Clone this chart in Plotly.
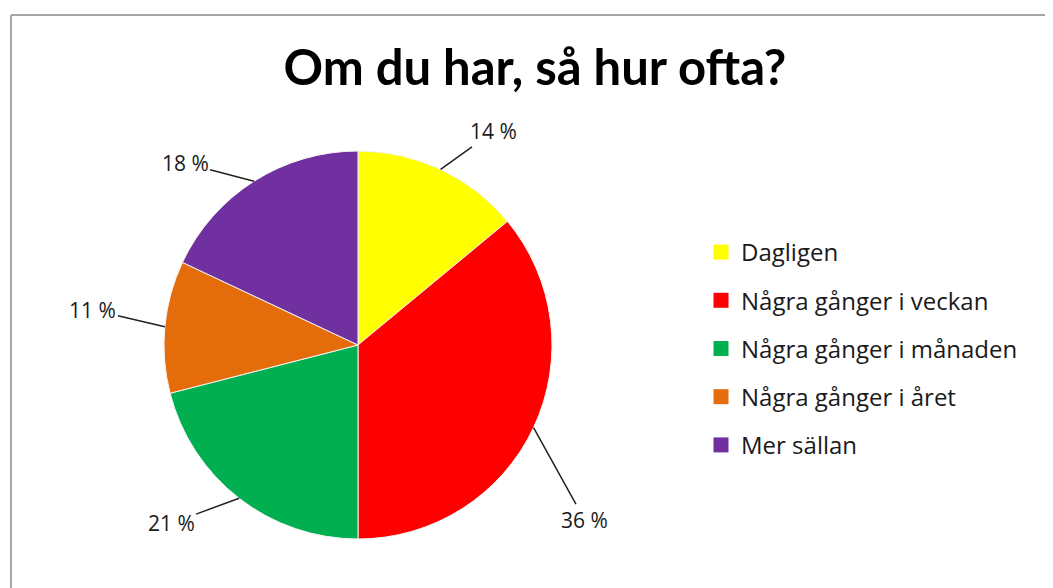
import math
import plotly.graph_objects as go

# ---- data ----
categories = ["Dagligen", "Några gånger i veckan", "Några gånger i månaden",
              "Några gånger i året", "Mer sällan"]
percent_values = [14, 36, 21, 11, 18]
title_text = "Om du har, så hur ofta?"

# ---- style ----
colors = ["#FFFF00", "#FF0000", "#00B050", "#E46C0A", "#7030A0"]
label_offsets = [(53, -38), (51, 92), (-68, 25), (-72, -17), (-69, -18)]  # pixel offsets of labels
W, H = 1053, 588
OFF = 8  # page body margin
cx_px, cy_px, r_px = 358 - OFF, 345 - OFF, 194
FONT = "Lato"
FONT2 = "Open Sans"

fig = go.Figure()

dom_x = [(cx_px - r_px) / W, (cx_px + r_px) / W]
dom_y = [(H - cy_px - r_px) / H, (H - cy_px + r_px) / H]

fig.add_trace(go.Pie(
    labels=categories, values=percent_values, sort=False, direction="clockwise",
    rotation=0, marker=dict(colors=colors, line=dict(color="#f4f4f4", width=1)),
    textinfo="none", showlegend=False, hoverinfo="label+percent",
    domain=dict(x=dom_x, y=dom_y),
))

# legend entries (one per category)
for cat, col in zip(categories, colors):
    fig.add_trace(go.Scatter(
        x=[None], y=[None], mode="markers", name=cat, legendgroup=cat,
        marker=dict(symbol="square", size=15, color=col),
    ))

# percentage labels with leader lines, anchored at each slice's mid-angle on the rim
total = sum(percent_values)
cum = 0
for v, (ax, ay) in zip(percent_values, label_offsets):
    mid = (cum + v / 2) / total * 2 * math.pi
    cum += v
    px = cx_px + r_px * math.sin(mid)
    py = cy_px - r_px * math.cos(mid)
    fig.add_annotation(
        x=px / W, y=1 - py / H, xref="paper", yref="paper",
        text=f"{v} %", showarrow=True, arrowhead=0, arrowwidth=1.5,
        arrowcolor="#222222", ax=ax, ay=ay,
        font=dict(family=FONT2, size=21, color="#1a1a1a"),
    )

# Excel-like chart frame (top and left edges)
fx, fy = 11 - OFF, 15 - OFF
fig.add_shape(type="line", xref="paper", yref="paper",
              x0=fx / W, x1=1, y0=1 - fy / H, y1=1 - fy / H,
              line=dict(color="#a6a6a6", width=2))
fig.add_shape(type="line", xref="paper", yref="paper",
              x0=fx / W, x1=fx / W, y0=0, y1=1 - fy / H,
              line=dict(color="#a6a6a6", width=2))

fig.update_layout(
    width=W, height=H,
    margin=dict(l=0, r=0, t=0, b=0),
    paper_bgcolor="white", plot_bgcolor="white",
    title=dict(text=f"<b>{title_text}</b>", x=(535 - OFF) / W, xanchor="center",
               y=1 - (68 - OFF) / H, yanchor="middle",
               font=dict(family=FONT, size=49, color="#000000")),
    xaxis=dict(visible=False), yaxis=dict(visible=False),
    legend=dict(x=(742 - OFF - 41) / W, y=1 - (230 - OFF) / H, xanchor="left", yanchor="top",
                font=dict(family=FONT2, size=24, color="#1a1a1a"),
                tracegroupgap=14, traceorder="grouped",
                bgcolor="rgba(0,0,0,0)"),
    showlegend=True,
)

fig.write_html("out.html")
